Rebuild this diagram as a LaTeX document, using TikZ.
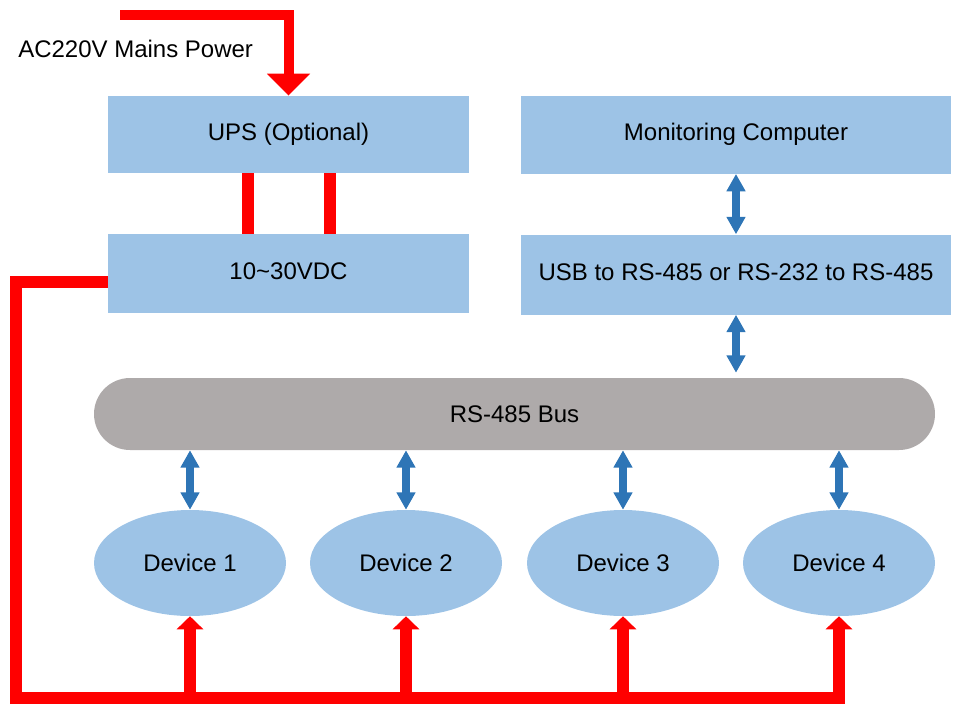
\documentclass[tikz,border=0pt]{standalone}
\usepackage{fontspec}
\setmainfont{Liberation Sans}
\usetikzlibrary{arrows.meta, shapes.geometric, positioning}
\definecolor{boxblue}{HTML}{9DC3E6}
\definecolor{busgray}{HTML}{AEAAAA}
\definecolor{linkblue}{HTML}{2E75B6}
\definecolor{powerred}{HTML}{FF0000}

\begin{document}
\begin{tikzpicture}[x=0.75pt, y=-0.75pt,
    every node/.style={font=\fontsize{18}{21}\selectfont, inner sep=0pt},
    block/.style={rectangle, fill=boxblue, minimum width=270.75pt, minimum height=58pt,
      text height=13pt, text depth=4.6pt},
    wideblock/.style={block, minimum width=322.5pt},
    device/.style={ellipse, fill=boxblue, minimum width=144pt, minimum height=79.5pt},
    power/.style={draw=powerred, line width=9pt},
    powerarrow/.style={power, -{Triangle[length=9.75pt, width=19.5pt]}},
    mains/.style={draw=powerred, line width=7.5pt, -{Triangle[length=16.5pt, width=31.5pt]}},
    link/.style={draw=linkblue, line width=6pt,
      {Triangle[length=13pt, width=13.5pt]}-{Triangle[length=13pt, width=13.5pt]}}]
  \useasboundingbox (0,0) rectangle (957,704);

  % Bloques
  \node[block] (ups) at (288.5,134.5) {UPS (Optional)};
  \node[block, minimum height=59pt] (vdc) at (288.5,273.5) {10\textasciitilde30VDC};
  \node[wideblock] (pc) at (736,135) {Monitoring Computer};
  \node[wideblock, minimum height=60pt] (conv) at (736,274.5) {USB to RS-485 or RS-232 to RS-485};
  \node[rectangle, fill=busgray, rounded corners=27pt, minimum width=630.75pt,
        minimum height=54pt] (bus) at (514.5,414) {RS-485 Bus};
  \foreach \i/\x in {1/190, 2/406, 3/623, 4/839} {
    \node[device] (d\i) at (\x,563) {Device \i};
  }

  % Alimentacion
  \coordinate (acin) at (120,15);
  \node[anchor=base west] (aclabel) at (18,57) {AC220V Mains Power};
  \draw[mains] (acin) -| (ups.north);
  \coordinate (b1) at (248,0);
  \coordinate (b2) at (329.5,0);
  \foreach \b in {b1, b2} {
    \draw[power] (ups.south -| \b) -- (vdc.north -| \b);
  }
  \coordinate (corner) at (15.5,698);
  \draw[powerarrow] ([yshift=-6.4pt]vdc.west) -| (corner) -| (d4.south);
  \foreach \i in {1,2,3} {
    \draw[powerarrow] (d\i.south |- corner) -- (d\i.south);
  }

  % Comunicacion
  \draw[link] (pc) -- (conv);
  \draw[link, shorten >=3.75pt] (conv) -- (conv.south |- bus.north);
  \foreach \i in {1,...,4} {
    \draw[link] (d\i.north |- bus.south) -- (d\i.north);
  }
\end{tikzpicture}
\end{document}
